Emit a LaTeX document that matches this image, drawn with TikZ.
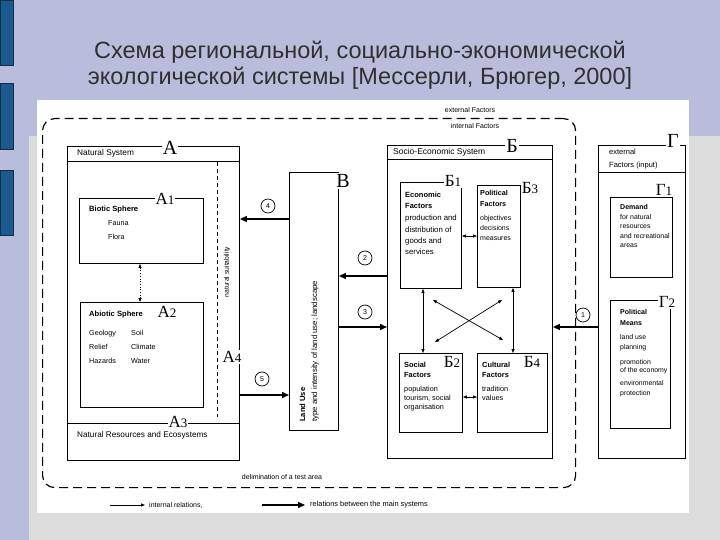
\documentclass[tikz,border=0pt]{standalone}
\usepackage{fontspec}
\setmainfont{Liberation Sans}
\newfontfamily\lblfont{Liberation Serif}
\usetikzlibrary{arrows.meta}
\definecolor{lav}{HTML}{B9BCDA}
\definecolor{grayarea}{HTML}{DCDCDC}
\definecolor{barblue}{HTML}{1C5A8E}
\definecolor{bardark}{HTML}{0F2F50}
\definecolor{titlegray}{HTML}{303030}
\newcommand{\fs}[2]{\fontsize{#1}{#2}\selectfont}
\newcommand{\lbx}[2]{#1{\fs{13}{13}#2}}
\begin{document}
\begin{tikzpicture}[x=1pt,y=-1pt,
  box/.style={draw, line width=0.9pt, anchor=north west, inner sep=0},
  lbl/.style={font=\lblfont\fs{20}{20}, fill=white, inner sep=1pt},
  slbl/.style={font=\lblfont\fs{17}{17}, fill=white, inner sep=1pt},
  txt/.style={inner sep=0, anchor=north west, align=left, font=\fs{7.5}{9}},
  hd/.style={txt, font=\bfseries\fs{7.6}{11}},
  numc/.style={draw, circle, line width=0.7pt, minimum size=14pt, inner sep=0, font=\fs{7}{7}, fill=white},
  rel/.style={line width=1.5pt, -{Triangle[length=7pt,width=6pt]}},
  intl/.style={line width=0.7pt, {Triangle[length=4pt,width=3pt]}-{Triangle[length=4pt,width=3pt]}},
  onel/.style={line width=0.7pt, -{Triangle[length=4pt,width=3pt]}}
]
\useasboundingbox (0,0) rectangle (720,540);
% slide background
\fill[lav] (0,0) rectangle (720,540);
\fill[grayarea] (29,136) rectangle (720,540);
\fill[white] (37,100) rectangle (689,513);
\filldraw[fill=barblue, draw=bardark, line width=0.8pt] (0,0) rectangle (13,65);
\filldraw[fill=barblue, draw=bardark, line width=0.8pt] (0,83) rectangle (13,149);
\filldraw[fill=barblue, draw=bardark, line width=0.8pt] (0,170) rectangle (13,235);
\node[font=\fs{23.5}{26}, text=titlegray, align=center] (title) at (360,65)
  {Схема региональной, социально-экономической\\экологической системы [Мессерли, Брюгер, 2000]};

% outer dashed area
\node[draw, line width=1.2pt, dash pattern=on 9pt off 5pt, rounded corners=12pt,
  minimum width=533pt, minimum height=369pt, anchor=north west, inner sep=0] (outer) at (42,118) {};
\node[font=\fs{7}{7}, fill=white, inner sep=1pt] (extf) at (470,110) {external Factors};
\node[font=\fs{7}{7}, fill=white, inner sep=1pt] (intf) at (475,126) {internal Factors};
\node[font=\fs{7}{7}, fill=white, inner sep=1pt] (delim) at (282,477) {delimination of a test area};

% Natural system
\node[box, minimum width=172pt, minimum height=314pt] (nat) at (67,146) {};
\draw[line width=0.9pt] (nat.west |- 0,161) -- (nat.east |- 0,161);
\draw[line width=0.9pt] (nat.west |- 0,423) -- (nat.east |- 0,423);
\node[txt, font=\fs{8.3}{9}] (natt) at (77,149.5) {Natural System};
\node[box, minimum width=124pt, minimum height=65pt] (bio) at (79,198) {};
\node[hd] (biot) at (89,205.5) {Biotic Sphere};
\node[txt, font=\fs{7.2}{14}] (biol) at (108,220.5) {Fauna\\Flora};
\node[box, minimum width=123pt, minimum height=105pt] (abio) at (80,302) {};
\node[hd] (abiot) at (89,310.5) {Abiotic Sphere};
\node[txt, font=\fs{7.2}{14}] (abl1) at (89,330.5) {Geology\\Relief\\Hazards};
\node[txt, font=\fs{7.2}{14}] (abl2) at (131,330.5) {Soil\\Climate\\Water};
\node[txt, font=\fs{8.2}{9}] (nret) at (77,431.5) {Natural Resources and Ecosystems};
\draw[line width=0.7pt, dash pattern=on 4pt off 3pt] (217,162) -- (217,417);
\node[font=\fs{6.8}{7}, rotate=90, inner sep=0] (suit) at (227,272) {natural suitability};
\draw[intl, dotted] (bio.south -| 140,0) -- (abio.north -| 140,0);
\node[lbl] (lA) at (170,148) {А};
\node[slbl] (lA1) at (165,199) {\lbx{А}{1}};
\node[slbl] (lA2) at (167,312) {\lbx{А}{2}};
\node[slbl] (lA3) at (178,422) {\lbx{А}{3}};
\node[slbl] (lA4) at (232,357) {\lbx{А}{4}};

% Land use
\node[box, minimum width=49pt, minimum height=258pt] (land) at (289,172) {};
\node[inner sep=0, anchor=base west, rotate=90, font=\bfseries\fs{7.6}{8}] (landt) at (305,422) {Land Use};
\node[inner sep=0, anchor=base west, rotate=90, font=\fs{7.8}{8}] (landb) at (317,422) {type and intensity of land use; landscape};
\node[lbl] (lB) at (343,181) {В};

% Socio-economic system
\node[box, minimum width=165pt, minimum height=313pt] (soc) at (387,145) {};
\draw[line width=0.9pt] (soc.west |- 0,159) -- (soc.east |- 0,159);
\node[txt, font=\fs{8.5}{9}] (soct) at (393,148.5) {Socio-Economic System};
\node[box, minimum width=61pt, minimum height=106pt] (eco) at (400,182) {};
\node[hd, font=\bfseries\fs{7.5}{11}] (ecoh) at (405,192) {Economic\\Factors};
\node[txt, font=\fs{7.8}{11.3}] (ecob) at (405,215) {production and\\distribution of\\goods and\\services};
\node[box, minimum width=43pt, minimum height=102pt] (pol) at (477,185) {};
\node[hd, font=\bfseries\fs{7.2}{11}] (polh) at (480,190) {Political\\Factors};
\node[txt, font=\fs{7}{10}] (polb) at (480,215) {objectives\\decisions\\measures};
\node[box, minimum width=63pt, minimum height=79pt] (sof) at (399,353) {};
\node[hd, font=\bfseries\fs{7.4}{10}] (sofh) at (404,362) {Social\\Factors};
\node[txt, font=\fs{7.3}{9}] (sofb) at (404,386) {population\\tourism, social\\organisation};
\node[box, minimum width=70pt, minimum height=79pt] (cul) at (477,353) {};
\node[hd, font=\bfseries\fs{7.4}{10}] (culh) at (482,362) {Cultural\\Factors};
\node[txt, font=\fs{7.3}{9}] (culb) at (482,386) {tradition\\values};
\draw[intl] (eco.east |- 0,236) -- (pol.west |- 0,236);
\draw[intl] (sof.east |- 0,397) -- (cul.west |- 0,397);
\draw[intl] (eco.south -| 423,0) -- (sof.north -| 423,0);
\draw[intl] (pol.south -| 513,0) -- (cul.north -| 513,0);
\coordinate (x1) at (433,300); \coordinate (x2) at (503,340);
\coordinate (x3) at (502,300); \coordinate (x4) at (435,342);
\draw[intl] (x1) -- (x2);
\draw[intl] (x3) -- (x4);
\node[lbl] (lS) at (512,146) {Б};
\node[slbl] (lS1) at (453,181) {\lbx{Б}{1}};
\node[slbl] (lS3) at (530,188) {\lbx{Б}{3}};
\node[slbl] (lS2) at (452,362) {\lbx{Б}{2}};
\node[slbl] (lS4) at (532,362) {\lbx{Б}{4}};

% External factors
\node[box, minimum width=87pt, minimum height=313pt] (ext) at (598,145) {};
\draw[line width=0.9pt] (ext.west |- 0,172) -- (ext.east |- 0,172);
\node[txt, font=\fs{7.5}{13}] (extt) at (609,149) {external\\Factors (input)};
\node[box, minimum width=62pt, minimum height=80pt] (dem) at (610,197) {};
\node[hd, font=\bfseries\fs{7}{10}] (demh) at (620,204) {Demand};
\node[txt, font=\fs{6.9}{9.3}] (demb) at (620,214.5) {for natural\\resources\\and recreational\\areas};
\node[box, minimum width=60pt, minimum height=128pt] (mea) at (610,300) {};
\node[hd, font=\bfseries\fs{7}{11}] (meah) at (620,309) {Political\\Means};
\node[txt, font=\fs{6.9}{10}] (meab1) at (620,334) {land use\\planning};
\node[txt, font=\fs{6.9}{8.5}] (meab2) at (620,359) {promotion\\of the economy};
\node[txt, font=\fs{6.9}{10}] (meab3) at (620,380) {environmental\\protection};
\node[lbl] (lG) at (673,141) {Г};
\node[slbl] (lG1) at (664,190) {\lbx{Г}{1}};
\node[slbl] (lG2) at (667,302) {\lbx{Г}{2}};

% relations between the main systems
\draw[rel] (land.west |- 0,219) -- (nat.east |- 0,219);
\draw[rel] (nat.east |- 0,395) -- (land.west |- 0,395);
\draw[rel] (soc.west |- 0,276) -- (land.east |- 0,276);
\draw[rel] (land.east |- 0,327) -- (soc.west |- 0,327);
\draw[rel] (ext.west |- 0,327) -- (soc.east |- 0,327);
\node[numc] (n4) at (268,206) {4};
\node[numc] (n5) at (262,379) {5};
\node[numc] (n2) at (365,258) {2};
\node[numc] (n3) at (365,312) {3};
\node[numc] (n1) at (583,315) {1};

% legend
\coordinate (lg1) at (110,505);
\node[font=\fs{7}{7}, inner sep=0, anchor=west] (lgt1) at (149,505) {internal relations,};
\coordinate (lg2) at (262,505);
\node[font=\fs{7.4}{7}, inner sep=0, anchor=west] (lgt2) at (310,505) {relations between the main systems};
\draw[onel] (lg1) -- ([xshift=-4pt]lgt1.west);
\draw[rel, line width=1.1pt] (lg2) -- ([xshift=-5pt]lgt2.west);
\end{tikzpicture}
\end{document}
